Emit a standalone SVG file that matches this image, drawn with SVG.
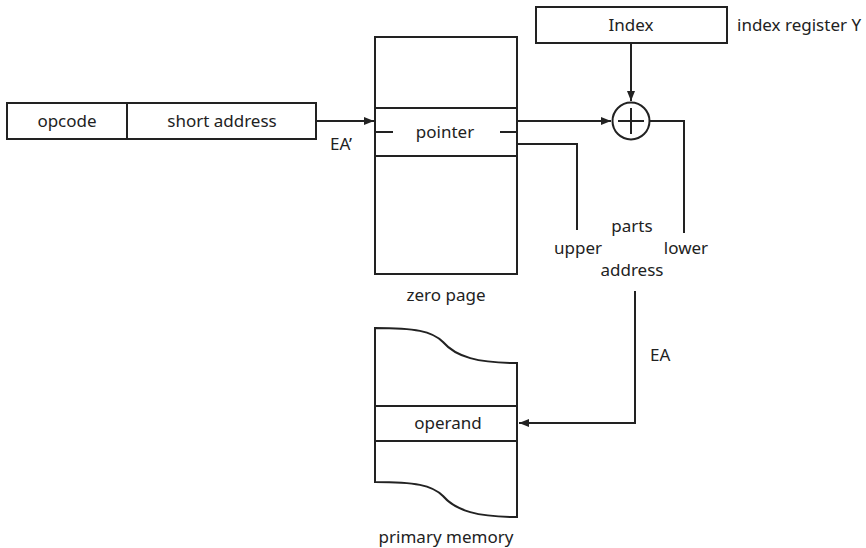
<svg xmlns="http://www.w3.org/2000/svg" width="866" height="548" viewBox="0 0 866 548">
<defs>
<style>
.box{fill:#fff;stroke:#222;stroke-width:2}
.ln{fill:none;stroke:#222;stroke-width:2}
text{font-family:"Noto Sans","Open Sans",sans-serif;font-size:17px;fill:#222}
.c{text-anchor:middle}
</style>
<marker id="ah" markerWidth="10" markerHeight="8" refX="10" refY="4" orient="auto" markerUnits="userSpaceOnUse">
<path d="M0,0 L10,4 L0,8 Z" fill="#222"/>
</marker>
</defs>
<rect width="866" height="548" fill="#fff"/>
<g id="instruction">
<rect class="box" x="7" y="103" width="309" height="36"/>
<line class="ln" x1="127" y1="103" x2="127" y2="139"/>
<text class="c" x="67" y="127">opcode</text>
<text class="c" x="222" y="127">short address</text>
</g>
<g id="zero-page">
<rect class="box" x="375" y="37" width="142" height="237"/>
<line class="ln" x1="375" y1="108" x2="517" y2="108"/>
<line class="ln" x1="375" y1="156" x2="517" y2="156"/>
<line class="ln" x1="375" y1="132" x2="393" y2="132"/>
<line class="ln" x1="500" y1="132" x2="517" y2="132"/>
<text class="c" x="445" y="138">pointer</text>
<text class="c" x="446" y="301">zero page</text>
</g>
<g id="index">
<rect class="box" x="536" y="7" width="191" height="36"/>
<text class="c" x="631" y="31">Index</text>
<text x="737" y="31">index register Y</text>
</g>
<g id="adder">
<circle class="ln" cx="631" cy="121" r="18.5"/>
<line class="ln" x1="631" y1="108" x2="631" y2="134"/>
<line class="ln" x1="618" y1="121" x2="644" y2="121"/>
</g>
<g id="primary-memory">
<path class="box" d="M375,328 C415,328 432,331 443,342 C456,357 478,363 517,363 L517,517 C478,517 456,511 443,496 C432,485 415,482 375,482 Z"/>
<line class="ln" x1="375" y1="406" x2="517" y2="406"/>
<line class="ln" x1="375" y1="441" x2="517" y2="441"/>
<text class="c" x="448" y="429">operand</text>
<text class="c" x="446" y="543">primary memory</text>
</g>
<g id="connectors">
<line class="ln" x1="316" y1="121" x2="374" y2="121" marker-end="url(#ah)"/>
<line class="ln" x1="517" y1="121" x2="611" y2="121" marker-end="url(#ah)"/>
<line class="ln" x1="631" y1="43" x2="631" y2="101" marker-end="url(#ah)"/>
<polyline class="ln" points="650,121 684,121 684,233"/>
<polyline class="ln" points="517,144 577,144 577,230"/>
<polyline class="ln" points="635,291 635,423 519,423" marker-end="url(#ah)"/>
</g>
<g id="labels">
<text x="330" y="150">EA’</text>
<text class="c" x="632" y="232">parts</text>
<text class="c" x="578" y="254">upper</text>
<text class="c" x="686" y="254">lower</text>
<text class="c" x="632" y="276">address</text>
<text x="650" y="361">EA</text>
</g>
</svg>
